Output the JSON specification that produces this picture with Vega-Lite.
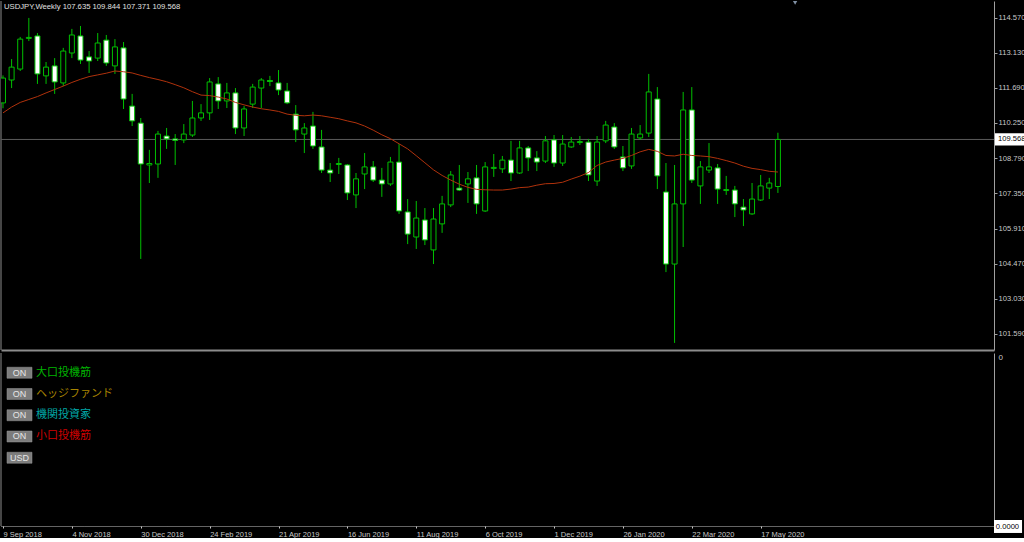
{
  "$schema": "https://vega.github.io/schema/vega-lite/v6.json",
  "background": "#000000",
  "padding": 0,
  "spacing": 1,
  "config": {"view": {"stroke": null}, "font": "Liberation Sans", "axis": {"grid": false, "labelOverlap": false}, "scale": {"continuousPadding": 0}},
  "datasets": {
    "candles": [
      {"d":"2018-09-09","o":111.07,"h":112.20,"l":110.85,"c":112.09,"ma":110.66},
      {"d":"2018-09-16","o":112.01,"h":112.87,"l":111.68,"c":112.54,"ma":110.90},
      {"d":"2018-09-23","o":112.46,"h":113.78,"l":112.38,"c":113.69,"ma":111.09},
      {"d":"2018-09-30","o":113.72,"h":114.56,"l":113.61,"c":113.76,"ma":111.21},
      {"d":"2018-10-07","o":113.82,"h":113.94,"l":111.85,"c":112.26,"ma":111.33},
      {"d":"2018-10-14","o":112.18,"h":112.75,"l":111.85,"c":112.54,"ma":111.48},
      {"d":"2018-10-21","o":112.59,"h":112.91,"l":111.44,"c":111.93,"ma":111.62},
      {"d":"2018-10-28","o":111.89,"h":113.33,"l":111.76,"c":113.20,"ma":111.76},
      {"d":"2018-11-04","o":113.12,"h":114.11,"l":112.91,"c":113.86,"ma":111.91},
      {"d":"2018-11-11","o":113.82,"h":114.23,"l":112.67,"c":112.83,"ma":112.04},
      {"d":"2018-11-18","o":112.96,"h":113.20,"l":112.30,"c":112.79,"ma":112.15},
      {"d":"2018-11-25","o":112.91,"h":113.94,"l":112.79,"c":113.53,"ma":112.22},
      {"d":"2018-12-02","o":113.65,"h":113.86,"l":112.59,"c":112.71,"ma":112.29},
      {"d":"2018-12-09","o":112.59,"h":113.69,"l":112.26,"c":113.37,"ma":112.38},
      {"d":"2018-12-16","o":113.33,"h":113.57,"l":110.82,"c":111.23,"ma":112.35},
      {"d":"2018-12-23","o":110.94,"h":111.44,"l":110.12,"c":110.33,"ma":112.30},
      {"d":"2018-12-30","o":110.24,"h":110.45,"l":104.66,"c":108.56,"ma":112.20},
      {"d":"2019-01-06","o":108.52,"h":109.14,"l":107.78,"c":108.58,"ma":112.11},
      {"d":"2019-01-13","o":108.56,"h":109.92,"l":107.99,"c":109.79,"ma":112.03},
      {"d":"2019-01-20","o":109.71,"h":110.04,"l":109.18,"c":109.59,"ma":111.94},
      {"d":"2019-01-27","o":109.59,"h":109.79,"l":108.52,"c":109.53,"ma":111.82},
      {"d":"2019-02-03","o":109.55,"h":110.20,"l":109.42,"c":109.79,"ma":111.69},
      {"d":"2019-02-10","o":109.75,"h":111.15,"l":109.67,"c":110.45,"ma":111.53},
      {"d":"2019-02-17","o":110.45,"h":111.02,"l":110.33,"c":110.66,"ma":111.39},
      {"d":"2019-02-24","o":110.66,"h":112.09,"l":110.37,"c":111.93,"ma":111.37},
      {"d":"2019-03-03","o":111.85,"h":112.13,"l":110.82,"c":111.15,"ma":111.31},
      {"d":"2019-03-10","o":111.15,"h":111.89,"l":110.86,"c":111.48,"ma":111.23},
      {"d":"2019-03-17","o":111.48,"h":111.68,"l":109.79,"c":110.04,"ma":111.09},
      {"d":"2019-03-24","o":110.04,"h":110.94,"l":109.71,"c":110.82,"ma":110.99},
      {"d":"2019-03-31","o":111.02,"h":111.85,"l":110.86,"c":111.72,"ma":110.90},
      {"d":"2019-04-07","o":111.68,"h":112.09,"l":110.86,"c":112.01,"ma":110.83},
      {"d":"2019-04-14","o":111.99,"h":112.18,"l":111.76,"c":111.95,"ma":110.78},
      {"d":"2019-04-21","o":111.89,"h":112.42,"l":111.39,"c":111.60,"ma":110.72},
      {"d":"2019-04-28","o":111.56,"h":111.89,"l":111.02,"c":111.07,"ma":110.61},
      {"d":"2019-05-05","o":110.61,"h":110.98,"l":109.46,"c":109.96,"ma":110.56},
      {"d":"2019-05-12","o":109.79,"h":110.24,"l":109.01,"c":110.04,"ma":110.54},
      {"d":"2019-05-19","o":110.12,"h":110.70,"l":109.18,"c":109.30,"ma":110.57},
      {"d":"2019-05-26","o":109.26,"h":109.96,"l":108.19,"c":108.31,"ma":110.54},
      {"d":"2019-06-02","o":108.31,"h":108.60,"l":107.82,"c":108.19,"ma":110.48},
      {"d":"2019-06-09","o":108.54,"h":108.81,"l":108.15,"c":108.58,"ma":110.42},
      {"d":"2019-06-16","o":108.52,"h":108.56,"l":107.08,"c":107.37,"ma":110.33},
      {"d":"2019-06-23","o":107.29,"h":108.19,"l":106.75,"c":107.95,"ma":110.25},
      {"d":"2019-06-30","o":108.15,"h":109.01,"l":107.53,"c":108.44,"ma":110.12},
      {"d":"2019-07-07","o":108.44,"h":108.68,"l":107.82,"c":107.90,"ma":109.95},
      {"d":"2019-07-14","o":107.90,"h":108.40,"l":107.21,"c":107.74,"ma":109.76},
      {"d":"2019-07-21","o":107.74,"h":108.85,"l":107.66,"c":108.64,"ma":109.60},
      {"d":"2019-07-28","o":108.64,"h":109.38,"l":106.51,"c":106.63,"ma":109.39},
      {"d":"2019-08-04","o":106.59,"h":107.12,"l":105.27,"c":105.68,"ma":109.18},
      {"d":"2019-08-11","o":105.56,"h":107.04,"l":105.07,"c":106.34,"ma":108.90},
      {"d":"2019-08-18","o":106.26,"h":106.75,"l":105.23,"c":105.44,"ma":108.61},
      {"d":"2019-08-25","o":105.03,"h":106.75,"l":104.45,"c":106.30,"ma":108.32},
      {"d":"2019-09-01","o":106.10,"h":107.25,"l":105.73,"c":106.92,"ma":108.09},
      {"d":"2019-09-08","o":106.88,"h":108.27,"l":106.79,"c":108.11,"ma":107.90},
      {"d":"2019-09-15","o":107.57,"h":108.52,"l":107.45,"c":107.49,"ma":107.73},
      {"d":"2019-09-22","o":107.74,"h":108.23,"l":106.96,"c":107.95,"ma":107.60},
      {"d":"2019-09-29","o":107.99,"h":108.52,"l":106.51,"c":106.92,"ma":107.52},
      {"d":"2019-10-06","o":106.63,"h":108.64,"l":106.59,"c":108.44,"ma":107.50},
      {"d":"2019-10-13","o":108.38,"h":108.97,"l":108.03,"c":108.42,"ma":107.49},
      {"d":"2019-10-20","o":108.36,"h":108.89,"l":108.19,"c":108.72,"ma":107.49},
      {"d":"2019-10-27","o":108.72,"h":109.51,"l":107.86,"c":108.19,"ma":107.53},
      {"d":"2019-11-03","o":108.19,"h":109.51,"l":108.15,"c":109.22,"ma":107.59},
      {"d":"2019-11-10","o":109.22,"h":109.30,"l":108.27,"c":108.81,"ma":107.61},
      {"d":"2019-11-17","o":108.81,"h":109.09,"l":108.27,"c":108.64,"ma":107.69},
      {"d":"2019-11-24","o":108.68,"h":109.71,"l":108.60,"c":109.51,"ma":107.75},
      {"d":"2019-12-01","o":109.55,"h":109.75,"l":108.44,"c":108.60,"ma":107.76},
      {"d":"2019-12-08","o":108.60,"h":109.75,"l":108.48,"c":109.38,"ma":107.81},
      {"d":"2019-12-15","o":109.26,"h":109.67,"l":109.22,"c":109.46,"ma":107.94},
      {"d":"2019-12-22","o":109.44,"h":109.71,"l":109.34,"c":109.48,"ma":108.06},
      {"d":"2019-12-29","o":109.46,"h":109.59,"l":107.86,"c":108.11,"ma":108.21},
      {"d":"2020-01-05","o":107.86,"h":109.71,"l":107.66,"c":109.46,"ma":108.50},
      {"d":"2020-01-12","o":109.51,"h":110.33,"l":109.42,"c":110.16,"ma":108.64},
      {"d":"2020-01-19","o":110.08,"h":110.24,"l":109.18,"c":109.26,"ma":108.72},
      {"d":"2020-01-26","o":108.85,"h":109.30,"l":108.27,"c":108.40,"ma":108.79},
      {"d":"2020-02-02","o":108.48,"h":110.04,"l":108.36,"c":109.79,"ma":108.91},
      {"d":"2020-02-09","o":109.63,"h":110.16,"l":109.55,"c":109.79,"ma":109.06},
      {"d":"2020-02-16","o":109.83,"h":112.26,"l":109.67,"c":111.52,"ma":109.16},
      {"d":"2020-02-23","o":111.23,"h":111.72,"l":107.53,"c":108.07,"ma":109.08},
      {"d":"2020-03-01","o":107.41,"h":108.60,"l":104.12,"c":104.45,"ma":108.91},
      {"d":"2020-03-08","o":104.45,"h":108.52,"l":101.21,"c":106.92,"ma":108.89},
      {"d":"2020-03-15","o":106.92,"h":111.52,"l":105.15,"c":110.78,"ma":108.96},
      {"d":"2020-03-22","o":110.78,"h":111.72,"l":107.78,"c":107.90,"ma":108.91},
      {"d":"2020-03-29","o":107.66,"h":108.68,"l":106.92,"c":108.44,"ma":108.89},
      {"d":"2020-04-05","o":108.31,"h":109.42,"l":108.19,"c":108.44,"ma":108.86},
      {"d":"2020-04-12","o":108.40,"h":108.56,"l":106.92,"c":107.53,"ma":108.79},
      {"d":"2020-04-19","o":107.47,"h":108.07,"l":107.29,"c":107.51,"ma":108.70},
      {"d":"2020-04-26","o":107.49,"h":107.66,"l":106.38,"c":106.92,"ma":108.60},
      {"d":"2020-05-03","o":106.79,"h":107.12,"l":106.01,"c":106.67,"ma":108.47},
      {"d":"2020-05-10","o":106.51,"h":107.78,"l":106.47,"c":107.12,"ma":108.38},
      {"d":"2020-05-17","o":107.08,"h":108.11,"l":107.04,"c":107.66,"ma":108.33},
      {"d":"2020-05-24","o":107.57,"h":107.99,"l":107.12,"c":107.78,"ma":108.26},
      {"d":"2020-05-31","o":107.635,"h":109.844,"l":107.371,"c":109.568,"ma":108.23}
    ],
    "legend": [
      {"row": 1, "btn": "ON", "label": "大口投機筋"},
      {"row": 2, "btn": "ON", "label": "ヘッジファンド"},
      {"row": 3, "btn": "ON", "label": "機関投資家"},
      {"row": 4, "btn": "ON", "label": "小口投機筋"},
      {"row": 5, "btn": "USD", "label": ""}
    ],
    "one": [{}],
    "titleRow": [{"t": "USDJPY,Weekly  107.635 109.844 107.371 109.568"}],
    "bidRow": [{"t": "109.568"}],
    "zeroRow": [{"t": "0.0000"}]
  },
  "vconcat": [
    {
      "width": 993,
      "height": 349,
      "layer": [
        {
          "data": {"name": "one"},
          "mark": {"type": "rule", "color": "#8c8c8c", "strokeWidth": 1},
          "encoding": {
            "x": {"datum": {"year": 2018, "month": 9, "date": 7, "hours": 9, "utc": true}, "type": "temporal",
                  "scale": {"type": "utc", "padding": 0, "domain": [{"year": 2018, "month": 9, "date": 7, "hours": 9, "utc": true}, {"year": 2020, "month": 11, "date": 22, "hours": 16, "minutes": 48, "utc": true}]},
                  "axis": {"orient": "bottom", "labels": false, "ticks": false, "domain": true, "domainColor": "#8c8c8c", "domainWidth": 2, "title": null, "grid": false}}
          }
        },
        {
          "data": {"name": "one"},
          "mark": {"type": "rule", "color": "#5a5a5a", "strokeWidth": 1},
          "encoding": {
            "y": {"datum": 109.568, "type": "quantitative",
                  "scale": {"domain": [100.919, 115.256], "nice": false, "zero": false, "padding": 0},
                  "axis": {"orient": "right", "values": [114.57, 113.13, 111.69, 110.25, 108.79, 107.35, 105.91, 104.47, 103.03, 101.59], "tickCount": 30, "format": ".3f", "title": null, "domainColor": "#a0a0a0", "tickColor": "#a0a0a0", "tickSize": 3, "labelColor": "#c8c8c8", "labelFontSize": 7.6, "labelFont": "Liberation Sans", "labelPadding": 1, "labelFlush": false, "labelOverlap": false, "grid": false}}
          }
        },
        {
          "data": {"name": "candles"},
          "mark": {"type": "rule", "color": "#00c000", "strokeWidth": 1, "clip": true},
          "encoding": {
            "x": {"field": "d", "type": "temporal"},
            "y": {"field": "l", "type": "quantitative"},
            "y2": {"field": "h"}
          }
        },
        {
          "data": {"name": "candles"},
          "mark": {"type": "bar", "size": 5, "stroke": "#00c000", "strokeWidth": 1, "clip": true},
          "encoding": {
            "x": {"field": "d", "type": "temporal"},
            "y": {"field": "o", "type": "quantitative"},
            "y2": {"field": "c"},
            "fill": {"condition": {"test": "datum.c > datum.o", "value": "#000000"}, "value": "#ffffff"}
          }
        },
        {
          "data": {"name": "candles"},
          "mark": {"type": "line", "color": "#b0320c", "strokeWidth": 1, "clip": true},
          "encoding": {
            "x": {"field": "d", "type": "temporal"},
            "y": {"field": "ma", "type": "quantitative"}
          }
        },
        {
          "data": {"name": "one"},
          "mark": {"type": "rect", "color": "#ffffff"},
          "encoding": {
            "x": {"datum": {"year": 2020, "month": 11, "date": 23, "hours": 12, "utc": true}, "type": "temporal"},
            "x2": {"datum": {"year": 2020, "month": 12, "date": 18, "utc": true}},
            "y": {"datum": 109.82, "type": "quantitative"},
            "y2": {"datum": 109.32}
          }
        },
        {
          "data": {"name": "bidRow"},
          "mark": {"type": "text", "color": "#000000", "fontSize": 7.6, "font": "Liberation Sans", "align": "left", "baseline": "middle"},
          "encoding": {
            "x": {"datum": {"year": 2020, "month": 11, "date": 25, "hours": 22, "utc": true}, "type": "temporal"},
            "y": {"datum": 109.568, "type": "quantitative"},
            "text": {"field": "t"}
          }
        },
        {
          "data": {"name": "titleRow"},
          "mark": {"type": "text", "color": "#e0e0e0", "fontSize": 7.7, "font": "Liberation Sans", "align": "left", "baseline": "middle"},
          "encoding": {
            "x": {"datum": {"year": 2018, "month": 9, "date": 9, "hours": 19, "utc": true}, "type": "temporal"},
            "y": {"datum": 115.03, "type": "quantitative"},
            "text": {"field": "t"}
          }
        },
        {
          "data": {"name": "one"},
          "mark": {"type": "point", "shape": "triangle-down", "filled": true, "color": "#8090a4", "size": 30, "opacity": 1, "clip": true},
          "encoding": {
            "x": {"datum": {"year": 2020, "month": 6, "date": 14, "utc": true}, "type": "temporal"},
            "y": {"datum": 115.2, "type": "quantitative"}
          }
        }
      ]
    },
    {
      "width": 993,
      "height": 173,
      "layer": [
        {
          "data": {"name": "one"},
          "mark": {"type": "rule", "color": "#8c8c8c", "strokeWidth": 1},
          "encoding": {
            "x": {"datum": {"year": 2018, "month": 9, "date": 7, "hours": 9, "utc": true}, "type": "temporal",
                  "scale": {"type": "utc", "padding": 0, "domain": [{"year": 2018, "month": 9, "date": 7, "hours": 9, "utc": true}, {"year": 2020, "month": 11, "date": 22, "hours": 16, "minutes": 48, "utc": true}]},
                  "axis": {"orient": "bottom", "title": null, "format": "%-d %b %Y", "tickCount": 40, "values": [
                    {"year": 2018, "month": 9, "date": 9, "utc": true},
                    {"year": 2018, "month": 11, "date": 4, "utc": true},
                    {"year": 2018, "month": 12, "date": 30, "utc": true},
                    {"year": 2019, "month": 2, "date": 24, "utc": true},
                    {"year": 2019, "month": 4, "date": 21, "utc": true},
                    {"year": 2019, "month": 6, "date": 16, "utc": true},
                    {"year": 2019, "month": 8, "date": 11, "utc": true},
                    {"year": 2019, "month": 10, "date": 6, "utc": true},
                    {"year": 2019, "month": 12, "date": 1, "utc": true},
                    {"year": 2020, "month": 1, "date": 26, "utc": true},
                    {"year": 2020, "month": 3, "date": 22, "utc": true},
                    {"year": 2020, "month": 5, "date": 17, "utc": true}
                  ], "domainColor": "#c8c8c8", "domainDash": [1, 1], "tickColor": "#c8c8c8", "tickSize": 2, "labelColor": "#c8c8c8", "labelFontSize": 7.5, "labelFont": "Liberation Sans", "labelAlign": "left", "labelBaseline": "top", "labelPadding": 2, "labelFlush": false, "labelOverlap": false, "grid": false}}
          }
        },
        {
          "data": {"name": "legend"},
          "mark": {"type": "bar", "size": 11, "color": "#7c7c7c", "stroke": "#9a9a9a", "strokeWidth": 0.5},
          "encoding": {
            "y": {"field": "row", "type": "quantitative",
                  "scale": {"domain": [0.0706, 8.212], "reverse": true, "nice": false, "zero": false, "padding": 0},
                  "axis": {"orient": "right", "values": [0.0706], "labelExpr": "'0'", "title": null, "ticks": false, "domainColor": "#a0a0a0", "labelColor": "#c8c8c8", "labelFontSize": 8, "labelFont": "Liberation Sans", "labelBaseline": "top", "labelPadding": 4, "labelFlush": false, "grid": false}},
            "x": {"datum": {"year": 2018, "month": 9, "date": 12, "hours": 6, "utc": true}, "type": "temporal"},
            "x2": {"datum": {"year": 2018, "month": 10, "date": 2, "hours": 14, "utc": true}}
          }
        },
        {
          "data": {"name": "legend"},
          "mark": {"type": "text", "color": "#e6e6e6", "fontSize": 9, "font": "Liberation Sans", "align": "center", "baseline": "middle"},
          "encoding": {
            "y": {"field": "row", "type": "quantitative"},
            "x": {"datum": {"year": 2018, "month": 9, "date": 22, "hours": 10, "utc": true}, "type": "temporal"},
            "text": {"field": "btn"}
          }
        },
        {
          "data": {"name": "legend"},
          "mark": {"type": "text", "fontSize": 11, "font": "Noto Sans CJK JP", "align": "left", "baseline": "middle"},
          "encoding": {
            "y": {"field": "row", "type": "quantitative"},
            "x": {"datum": {"year": 2018, "month": 10, "date": 5, "hours": 19, "utc": true}, "type": "temporal"},
            "text": {"field": "label"},
            "color": {"field": "label", "type": "nominal", "legend": null,
                      "scale": {"domain": ["大口投機筋", "ヘッジファンド", "機関投資家", "小口投機筋", ""], "range": ["#00b400", "#a88400", "#00a8a8", "#d00000", "#000000"]}}
          }
        },
        {
          "data": {"name": "one"},
          "mark": {"type": "rect", "color": "#ffffff"},
          "encoding": {
            "x": {"datum": {"year": 2020, "month": 11, "date": 22, "hours": 16, "minutes": 48, "utc": true}, "type": "temporal"},
            "x2": {"datum": {"year": 2020, "month": 12, "date": 15, "hours": 12, "utc": true}},
            "y": {"datum": 7.93, "type": "quantitative"},
            "y2": {"datum": 8.54}
          }
        },
        {
          "data": {"name": "zeroRow"},
          "mark": {"type": "text", "color": "#000000", "fontSize": 7.6, "font": "Liberation Sans", "align": "left", "baseline": "middle"},
          "encoding": {
            "x": {"datum": {"year": 2020, "month": 11, "date": 24, "hours": 5, "utc": true}, "type": "temporal"},
            "y": {"datum": 8.24, "type": "quantitative"},
            "text": {"field": "t"}
          }
        }
      ]
    }
  ]
}
